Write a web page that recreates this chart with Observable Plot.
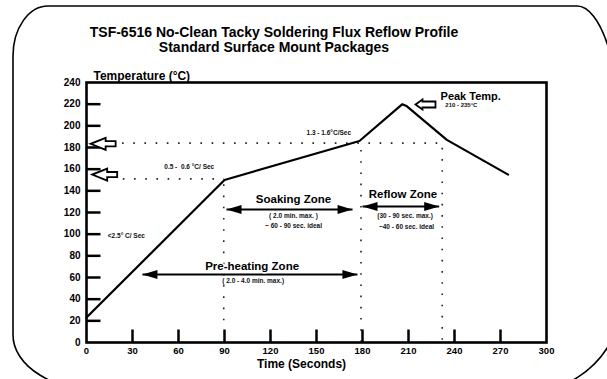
<!DOCTYPE html>
<html>
<head>
<meta charset="utf-8">
<script src="https://cdn.jsdelivr.net/npm/d3@7"></script>
<script src="https://cdn.jsdelivr.net/npm/@observablehq/plot@0.6"></script>
<style>
  html, body { margin: 0; padding: 0; background: #fff; overflow: hidden; }
  #wrap { position: relative; width: 607px; height: 379px; overflow: hidden; font-family: "Liberation Sans", Arial, sans-serif; background: #fff; }
  #border { position: absolute; left: 0; top: 0; }
  #title { position: absolute; left: 0; top: 25px; width: 548px; text-align: center; font-weight: bold;
           font-size: 14px; line-height: 15px; color: #000; }
  #chart { position: absolute; left: 0; top: 0; }
</style>
</head>
<body>
<div id="wrap">
  <svg id="border" width="607" height="379" viewBox="0 0 607 379">
    <path d="M48,6 L577,6 A45,145 0 0 1 622,151 L622,297 A95,95 0 0 1 527,392 L106,392 A93,57 0 0 1 13,335 L13,56 A35,50 0 0 1 48,6 Z"
          fill="none" stroke="#000" stroke-width="1.6"/>
  </svg>
  <div id="chart"></div>
  <div id="title">TSF-6516 No-Clean Tacky Soldering Flux Reflow Profile<br>Standard Surface Mount Packages</div>
</div>
<script>
// ---- profile data (time in seconds, temperature in °C)
const timeSec = [0, 90, 178, 206, 209, 235, 275];
const tempC   = [23, 150, 186, 220, 218, 187, 155];

// ---- axes
const xTicks = [0, 30, 60, 90, 120, 150, 180, 210, 240, 270, 300];
const yTicks = [0, 20, 40, 60, 80, 100, 120, 140, 160, 180, 200, 220, 240];
const xTickMarks = [30, 60, 90, 120, 150, 180, 210, 240, 270];
const yTickMarks = [20, 40, 60, 80, 100, 120, 140, 160, 180, 200, 220];
const xLabel = "Time (Seconds)";
const yLabel = "Temperature (°C)";

// ---- dotted guide lines
const hGuideTemp = [151, 184];
const hGuideFrom = [24, 23.5];
const hGuideTo   = [90, 232];
const vGuideTime = [89.5, 179, 232];
const vGuideFrom = [20, 0, 2];
const vGuideTo   = [148, 186, 184];

// ---- zones (double-headed arrows)
const zoneNames     = ["Soaking Zone", "Reflow Zone", "Pre-heating Zone"];
const zoneFrom      = [91.3, 180, 36.5];
const zoneTo        = [173.5, 230, 176.7];
const zoneArrowTemp = [122.8, 125.5, 62.8];
const zoneLabelTime = [135, 206.4, 108];
const zoneLabelTemp = [132, 136.6, 70.2];

// ---- small notes
const noteText = ["( 2.0 min. max. )", "~ 60 - 90 sec. ideal", "(30 - 90 sec. max.)", "~40 - 60 sec. ideal", "( 2.0 - 4.0 min. max.)",
                  "<2.5° C/ Sec", "0.5 -  0.6 °C/ Sec", "1.3 - 1.6°C/Sec"];
const noteTime = [135, 135, 207.8, 208.7, 108.7, 26, 67, 158];
const noteTemp = [116.6, 107.4, 116.6, 106.4, 57.2, 98.8, 162.5, 193.8];

// ---- hollow block arrows (tail position, pointing left)
const bigArrowTime = [19, 20];
const bigArrowTemp = [183.4, 155];
const peakArrowTime = [227.6];
const peakArrowTemp = [219.7];
const peakLabel = ["Peak Temp."];
const peakRange = ["210 - 235°C"];
const peakLabelTime = [230.9];
const peakLabelTemp = [227];
const peakRangeTime = [234];
const peakRangeTemp = [219.5];

// ---- shapes
const lineShape = {draw(ctx, l) { ctx.moveTo(0, 0); ctx.lineTo(0, -l); }};
const headShape = {draw(ctx, l) { ctx.moveTo(-4.5, 0); ctx.lineTo(0, -l); ctx.lineTo(4.5, 0); ctx.closePath(); }};
function blockShape(h, w, s) {
  return {draw(ctx, l) {
    ctx.moveTo(-s, 0); ctx.lineTo(-s, -(l - h)); ctx.lineTo(-w, -(l - h)); ctx.lineTo(0, -l);
    ctx.lineTo(w, -(l - h)); ctx.lineTo(s, -(l - h)); ctx.lineTo(s, 0); ctx.closePath();
  }};
}

const profile = timeSec.map((t, i) => ({t, temp: tempC[i]}));
const dotted = {stroke: "#222", strokeWidth: 1.6, strokeDasharray: "1.6 9.6", strokeLinecap: "butt"};

const chart = Plot.plot({
  width: 607, height: 379,
  marginLeft: 86, marginRight: 61, marginTop: 82, marginBottom: 37,
  style: {fontFamily: '"Liberation Sans", Arial, sans-serif', background: "transparent", color: "#000"},
  x: {domain: [0, 300]},
  y: {domain: [0, 240]},
  marks: [
    Plot.axisX(xTicks, {tickSize: 0, tickPadding: 5, fontSize: 9.5, fontWeight: "bold", label: null}),
    Plot.axisY(yTicks, {tickSize: 0, tickPadding: 6, fontSize: 10, fontWeight: "bold", label: null}),
    // dotted guides
    Plot.ruleY(hGuideTemp, {y: d => d, x1: (d, i) => hGuideFrom[i], x2: (d, i) => hGuideTo[i], ...dotted}),
    Plot.ruleX(vGuideTime, {x: d => d, y1: (d, i) => vGuideFrom[i], y2: (d, i) => vGuideTo[i], ...dotted}),
    // inner tick marks
    Plot.vector(yTickMarks, {x: 0, y: d => d, length: 14, rotate: 90, anchor: "start", shape: lineShape, stroke: "#000", strokeWidth: 2.5, strokeLinecap: "butt"}),
    Plot.vector(xTickMarks, {x: d => d, y: 0, length: 13, rotate: 0, anchor: "start", shape: lineShape, stroke: "#000", strokeWidth: 2.5, strokeLinecap: "butt"}),
    // profile
    Plot.line(profile, {x: "t", y: "temp", stroke: "#000", strokeWidth: 2.2, strokeLinejoin: "miter"}),
    // zone arrows
    Plot.link(zoneNames, {x1: (d, i) => zoneFrom[i], x2: (d, i) => zoneTo[i], y1: (d, i) => zoneArrowTemp[i], y2: (d, i) => zoneArrowTemp[i], stroke: "#000", strokeWidth: 2}),
    Plot.vector(zoneFrom, {x: d => d, y: (d, i) => zoneArrowTemp[i], rotate: 270, length: 15, anchor: "end", shape: headShape, fill: "#000", stroke: "none"}),
    Plot.vector(zoneTo, {x: d => d, y: (d, i) => zoneArrowTemp[i], rotate: 90, length: 15, anchor: "end", shape: headShape, fill: "#000", stroke: "none"}),
    Plot.text(zoneNames, {x: (d, i) => zoneLabelTime[i], y: (d, i) => zoneLabelTemp[i], text: d => d, fontSize: 11.5, fontWeight: "bold", fill: "#000", stroke: "#fff", strokeWidth: 3}),
    Plot.text(noteText, {x: (d, i) => noteTime[i], y: (d, i) => noteTemp[i], text: d => d, fontSize: 6.5, fontWeight: "bold", fill: "#111"}),
    // hollow arrows
    Plot.vector(bigArrowTime, {x: d => d, y: (d, i) => bigArrowTemp[i], rotate: 270, length: 25, anchor: "start", shape: blockShape(15, 6, 2.6), fill: "#fff", stroke: "#000", strokeWidth: 1.8, strokeLinejoin: "miter"}),
    Plot.vector(peakArrowTime, {x: d => d, y: (d, i) => peakArrowTemp[i], rotate: 270, length: 20, anchor: "start", shape: blockShape(7, 5, 3), fill: "#fff", stroke: "#000", strokeWidth: 1.8, strokeLinejoin: "miter"}),
    Plot.text(peakLabel, {x: (d, i) => peakLabelTime[i], y: (d, i) => peakLabelTemp[i], text: d => d, textAnchor: "start", fontSize: 11, fontWeight: "bold", fill: "#000"}),
    Plot.text(peakRange, {x: (d, i) => peakRangeTime[i], y: (d, i) => peakRangeTemp[i], text: d => d, textAnchor: "start", fontSize: 6, fontWeight: "bold", fill: "#111"}),
    // axis titles
    Plot.text([yLabel], {frameAnchor: "top-left", text: d => d, dx: 7, dy: -11, textAnchor: "start", fontSize: 12, fontWeight: "bold", fill: "#000"}),
    Plot.text([xLabel], {frameAnchor: "bottom", text: d => d, dx: -15, dy: 25, fontSize: 12, fontWeight: "bold", fill: "#000"}),
    Plot.frame({stroke: "#000", strokeWidth: 2.6})
  ]
});
document.getElementById("chart").appendChild(chart);
</script>
</body>
</html>
